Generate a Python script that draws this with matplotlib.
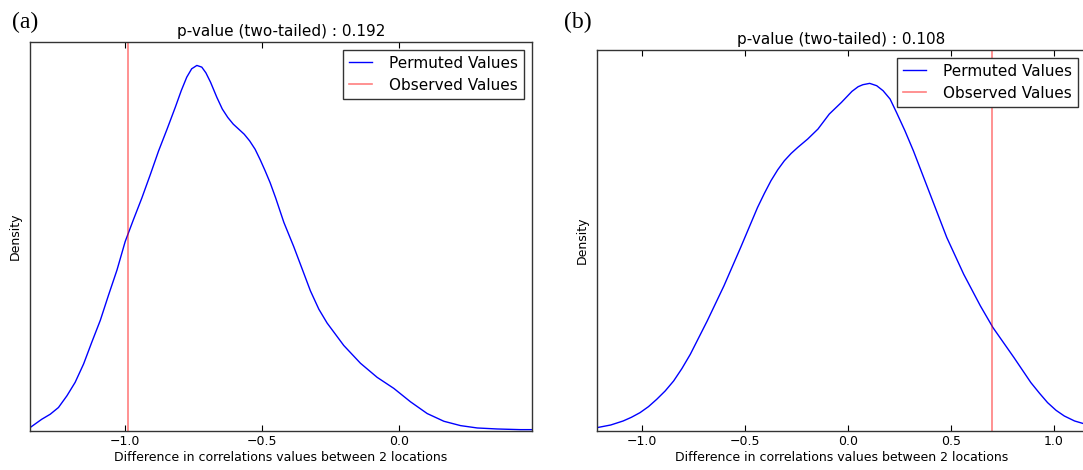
import matplotlib
matplotlib.use('Agg')
from matplotlib import pyplot as plt


# panel (a): kernel density of permuted differences
A_X = [-1.348, -1.305, -1.274, -1.244, -1.213, -1.183, -1.152, -1.122, -1.091,
       -1.061, -1.030, -1.0, -0.970, -0.939, -0.908, -0.878, -0.847, -0.817,
       -0.795, -0.775, -0.757, -0.738, -0.720, -0.705, -0.688, -0.665, -0.645,
       -0.625, -0.605, -0.585, -0.565, -0.545, -0.525, -0.506, -0.488, -0.470,
       -0.450, -0.420, -0.384, -0.353, -0.323, -0.292, -0.262, -0.201, -0.140,
       -0.079, -0.018, 0.043, 0.104, 0.165, 0.226, 0.287, 0.360, 0.445, 0.487]
A_H = [10, 35, 50, 70, 105, 145, 200, 265, 330,
       405, 480, 565, 630, 695, 765, 835, 900, 965,
       1015, 1055, 1080, 1090, 1085, 1068, 1040, 995, 960,
       935, 915, 900, 885, 865, 840, 808, 775, 740,
       695, 622, 550, 483, 418, 363, 322, 255, 202,
       160, 127, 87, 52, 29, 16, 9, 6, 4, 4]
A_OBSERVED = -0.99
A_PVALUE = 0.192

# panel (b)
B_X = [-1.217, -1.150, -1.090, -1.050, -1.008, -0.967, -0.927, -0.886, -0.845,
       -0.805, -0.764, -0.682, -0.601, -0.520, -0.438, -0.405, -0.373, -0.340,
       -0.308, -0.275, -0.243, -0.195, -0.145, -0.090, -0.031, 0.020, 0.050,
       0.073, 0.106, 0.140, 0.171, 0.205, 0.236, 0.277, 0.318, 0.399, 0.480,
       0.562, 0.643, 0.704, 0.806, 0.888, 0.930, 0.969, 1.010, 1.050, 1.100,
       1.155]
B_H = [10, 18, 30, 41, 55, 73, 95, 120, 150,
       187, 230, 330, 435, 550, 670, 712, 750, 783,
       810, 832, 850, 875, 905, 950, 985, 1018, 1032,
       1038, 1042, 1035, 1020, 995, 955, 900, 840, 710, 580,
       470, 375, 310, 220, 145, 113, 85, 62, 45, 30,
       20]
B_OBSERVED = 0.70
B_PVALUE = 0.108

XLABEL = 'Difference in correlations values between 2 locations'


def make_panel(fig, rect, xs, hs, height, observed, pvalue, xlim, xticks, tag, tag_xy):
    ax = fig.add_axes(rect)
    density = [h / height * 2.0 for h in hs]
    ax.plot(xs, density, color='b', lw=1.0, label='Permuted Values')
    ax.axvline(observed, color='r', alpha=0.5, lw=1.2, label='Observed Values')
    ax.set_xlim(*xlim)
    ax.set_ylim(0, 2.0)
    ax.set_xticks(xticks)
    ax.set_yticks([])
    ax.tick_params(axis='x', direction='in', top=True, length=4, labelsize=9, pad=3)
    for s in ax.spines.values():
        s.set_color('#333333')
        s.set_linewidth(1.0)
    ax.set_xlabel(XLABEL, fontsize=9, labelpad=2)
    ax.set_ylabel('Density', fontsize=9, labelpad=6)
    ax.set_title('p-value (two-tailed) : %.3f' % pvalue, fontsize=11, pad=4)
    ax.legend(loc='upper right', fontsize=11, fancybox=False, edgecolor='#333333',
              framealpha=1, handlelength=1.5, handletextpad=1.1, borderpad=0.4,
              labelspacing=0.45, borderaxespad=0.5)
    fig.text(tag_xy[0], tag_xy[1], tag, fontsize=17, family='Liberation Serif',
             ha='left', va='top')
    return ax


def main():
    fig = plt.figure(figsize=(10.83, 4.70), dpi=100)
    fmt = lambda v: ('%.1f' % v).replace('-', '\u2212')

    ax_a = make_panel(fig, [0.0277, 0.0830, 0.4635, 0.8277], A_X, A_H, 1160,
                      A_OBSERVED, A_PVALUE, (-1.348, 0.487), [-1.0, -0.5, 0.0],
                      '(a)', (0.011, 0.975))
    ax_a.set_xticklabels([fmt(v) for v in ax_a.get_xticks()])

    ax_b = make_panel(fig, [0.5512, 0.0830, 0.4515, 0.8106], B_X, B_H, 1142,
                      B_OBSERVED, B_PVALUE, (-1.217, 1.155), [-1.0, -0.5, 0.0, 0.5, 1.0],
                      '(b)', (0.521, 0.975))
    ax_b.set_xticklabels([fmt(v) for v in ax_b.get_xticks()])

    fig.savefig('out.png', dpi=100, facecolor='white')


if __name__ == '__main__':
    main()
